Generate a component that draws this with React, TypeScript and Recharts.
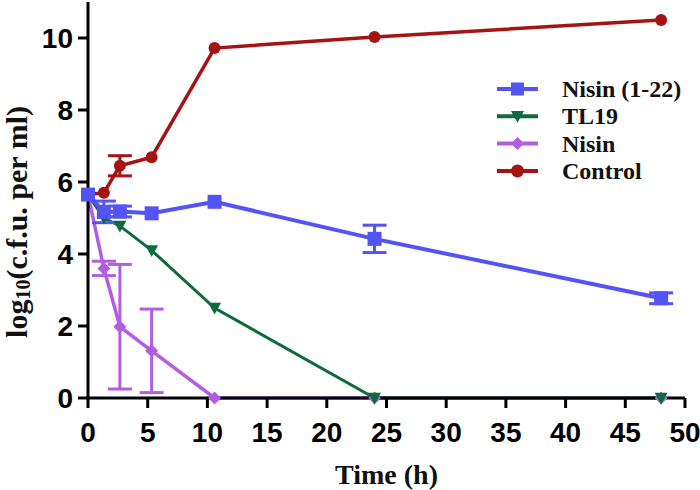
import React from "react";
import { LineChart, Line, XAxis, YAxis, ErrorBar } from "recharts";

// sampling times (h)
const times = [0, 1.33, 2.67, 5.33, 10.6, 24, 48];

const nisin122 = [5.65, 5.17, 5.18, 5.13, 5.45, 4.42, 2.77];
const nisin122Err = [0, 0.3, 0.15, 0, 0, 0.38, 0.15];
const tl19 = [5.65, 5.0, 4.78, 4.1, 2.5, 0, 0];
const nisin = [5.65, 3.6, 1.98, 1.31, 0, 0, 0];
const nisinErr = [0, 0.2, 1.73, 1.16, 0, 0, 0];
const control = [5.65, 5.7, 6.45, 6.69, 9.72, 10.03, 10.5];
const controlErr = [0, 0, 0.28, 0, 0, 0, 0];

const xTicks = [0, 5, 10, 15, 20, 25, 30, 35, 40, 45, 50];
const yTicks = [0, 2, 4, 6, 8, 10];

const BLUE = "#5454f6";
const GREEN = "#0f6a3d";
const PURPLE = "#b35ee2";
const RED = "#a51313";

const SERIF = "'Liberation Serif', 'Times New Roman', serif";
const SANS = "'Liberation Sans', Arial, sans-serif";

const data = times.map((t, i) => ({
  time: t,
  nisin122: nisin122[i],
  nisin122Err: nisin122Err[i],
  tl19: tl19[i],
  nisin: nisin[i],
  nisinErr: nisinErr[i],
  control: control[i],
  controlErr: controlErr[i],
}));

type Shape = "square" | "triangle" | "diamond" | "circle";

function marker(shape: Shape, cx: number, cy: number, color: string, s: number, key?: string) {
  if (shape === "square")
    return <rect key={key} x={cx - s / 2} y={cy - s / 2} width={s} height={s} fill={color} />;
  if (shape === "triangle")
    return (
      <path key={key} d={`M${cx - s / 2},${cy - s * 0.4} L${cx + s / 2},${cy - s * 0.4} L${cx},${cy + s * 0.5} Z`} fill={color} />
    );
  if (shape === "diamond")
    return (
      <path key={key} d={`M${cx},${cy - s / 2} L${cx + s / 2},${cy} L${cx},${cy + s / 2} L${cx - s / 2},${cy} Z`} fill={color} />
    );
  return <circle key={key} cx={cx} cy={cy} r={s / 2} fill={color} />;
}

const dotFor = (shape: Shape, color: string, s: number) => (p: any) =>
  marker(shape, p.cx, p.cy, color, s, `${shape}-${p.index}`);

const legendItems: { name: string; color: string; shape: Shape }[] = [
  { name: "Nisin (1-22)", color: BLUE, shape: "square" },
  { name: "TL19", color: GREEN, shape: "triangle" },
  { name: "Nisin", color: PURPLE, shape: "diamond" },
  { name: "Control", color: RED, shape: "circle" },
];

// legend drawn as an overlay so it doesn't take space from the plot
function LegendBox() {
  return (
    <svg width={210} height={110} style={{ position: "absolute", left: 490, top: 77 }}>
      {legendItems.map((it, i) => {
        const y = 12 + i * 27.3;
        return (
          <g key={it.name}>
            <line x1={7} x2={48} y1={y} y2={y} stroke={it.color} strokeWidth={4} />
            {marker(it.shape, 27.5, y, it.color, 13)}
            <text x={72} y={y + 8} fontFamily={SERIF} fontWeight="bold" fontSize={24} fill="#111">
              {it.name}
            </text>
          </g>
        );
      })}
    </svg>
  );
}

const tickStyle = {
  fontFamily: SANS,
  fontWeight: "bold",
  fontSize: 28,
  fill: "#000",
};

function YLabel() {
  return (
    <text
      x={16}
      y={222}
      transform="rotate(-90 16 222)"
      textAnchor="middle"
      dominantBaseline="central"
      fontFamily={SERIF}
      fontWeight="bold"
      fontSize={30}
      fill="#111"
    >
      <tspan>log</tspan>
      <tspan dy={7} fontSize={20}>10</tspan>
      <tspan dy={-7}>(c.f.u. per ml)</tspan>
    </text>
  );
}

export default function App() {
  return (
    <div style={{ position: "absolute", left: 0, top: 0, width: 700, height: 490, background: "#fff" }}>
      <LineChart width={700} height={490} data={data} margin={{ top: 2, right: 15, bottom: 0, left: 0 }}>
        <XAxis
          type="number"
          dataKey="time"
          domain={[0, 50]}
          ticks={xTicks}
          interval={0}
          tick={tickStyle}
          tickSize={10}
          tickMargin={14}
          axisLine={{ stroke: "#000", strokeWidth: 3 }}
          tickLine={{ stroke: "#000", strokeWidth: 3 }}
          height={92}
          label={{
            value: "Time (h)",
            position: "insideBottom",
            offset: 6,
            style: { fontFamily: SERIF, fontWeight: "bold", fontSize: 28, fill: "#111" },
          }}
        />
        <YAxis
          type="number"
          domain={[0, 11]}
          ticks={yTicks}
          interval={0}
          tick={tickStyle}
          tickSize={10}
          tickMargin={5}
          width={88}
          axisLine={{ stroke: "#000", strokeWidth: 3 }}
          tickLine={{ stroke: "#000", strokeWidth: 3 }}
          label={<YLabel />}
        />
        <Line
          dataKey="control"
          stroke={RED}
          strokeWidth={3.5}
          dot={dotFor("circle", RED, 12)}
          activeDot={false}
          isAnimationActive={false}
        >
          <ErrorBar dataKey="controlErr" direction="y" width={12} stroke={RED} strokeWidth={3} />
        </Line>
        <Line
          dataKey="nisin"
          stroke={PURPLE}
          strokeWidth={3.5}
          dot={dotFor("diamond", PURPLE, 13)}
          activeDot={false}
          isAnimationActive={false}
        >
          <ErrorBar dataKey="nisinErr" direction="y" width={12} stroke={PURPLE} strokeWidth={3} />
        </Line>
        <Line
          dataKey="tl19"
          stroke={GREEN}
          strokeWidth={3}
          dot={dotFor("triangle", GREEN, 13)}
          activeDot={false}
          isAnimationActive={false}
        />
        <Line
          dataKey="nisin122"
          stroke={BLUE}
          strokeWidth={4}
          dot={dotFor("square", BLUE, 14)}
          activeDot={false}
          isAnimationActive={false}
        >
          <ErrorBar dataKey="nisin122Err" direction="y" width={12} stroke={BLUE} strokeWidth={3} />
        </Line>
      </LineChart>
      <LegendBox />
    </div>
  );
}
